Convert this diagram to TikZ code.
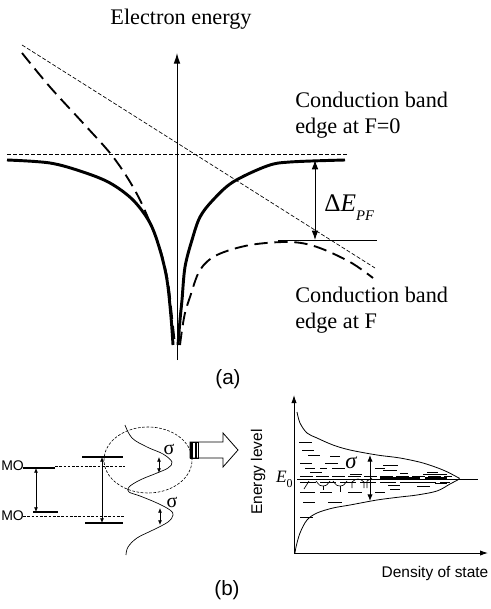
\documentclass[tikz,border=0pt]{standalone}
\usepackage{fontspec}
\setmainfont{Liberation Serif}
\setsansfont{Liberation Sans}
\usetikzlibrary{arrows.meta,shapes.geometric}
\begin{document}
\begin{tikzpicture}[x=0.75pt,y=-0.75pt,
  thickc/.style={line width=2.2pt, line join=round},
  fielddash/.style={line width=1.4pt, dash pattern=on 10pt off 5pt},
  thindash/.style={line width=0.5pt, dash pattern=on 3pt off 1.5pt},
  axisline/.style={line width=0.7pt},
  bigtip/.style={-{Latex[length=8pt,width=5pt]}},
  dbltip/.style={{Latex[length=7pt,width=5pt]}-{Latex[length=7pt,width=5pt]}},
  smalldbl/.style={line width=0.6pt,{Latex[length=3.5pt,width=3pt]}-{Latex[length=3.5pt,width=3pt]}},
  lvl/.style={line width=0.6pt},
  dashthin/.style={line width=0.45pt, dash pattern=on 2pt off 1.2pt},
  serifbig/.style={font=\fontsize{16.7}{19.5}\selectfont, inner sep=0pt},
  sanslab/.style={font=\sffamily\fontsize{15.5}{18}\selectfont, inner sep=0pt},
  sanssmall/.style={font=\sffamily\fontsize{11.6}{14}\selectfont, inner sep=0pt},
  molab/.style={font=\sffamily\fontsize{10.5}{12}\selectfont, inner sep=0pt},
  sigmalab/.style={font=\fontsize{15}{15}\selectfont, inner sep=0pt}]
\useasboundingbox (0,0) rectangle (490,609);

% ---------------- (a) ----------------
\node[serifbig, anchor=base] (title) at (181,25) {Electron energy};
\coordinate (axb) at (177,360);
\coordinate (axt) at (177,53);
\draw[axisline, bigtip] (axb) -- (axt);

% reference lines
\coordinate (h0l) at (7,154);
\coordinate (h0r) at (347,154);
\draw[thindash] (h0l) -- (h0r);
\coordinate (fl) at (22,45);
\coordinate (fr) at (375,268);
\draw[thindash] (fl) -- (fr);
\coordinate (hfl) at (278,240);
\coordinate (hfr) at (377,240);
\draw[line width=0.6pt] (hfl) -- (hfr);

% band edge at F=0
\draw[thickc] plot[smooth, tension=0.55] coordinates {(7,160) (50,163) (83,172) (110,183) (133,200) (150,223) (160,250) (167,280) (171,317) (173,345)};
\draw[thickc] plot[smooth, tension=0.55] coordinates {(178,345) (180,320) (182,300) (185,267) (192,240) (200,217) (213,200) (233,182) (267,166) (290,162) (345,160)};

% band edge at F
\draw[fielddash] plot[smooth, tension=0.55] coordinates {(22,53) (50,87) (83,123) (110,153) (127,177) (140,200) (151,225) (161,252) (168,282) (172,317) (175,345)};
\draw[fielddash] plot[smooth, tension=0.55] coordinates {(180,345) (182,330) (185,313) (190,297) (200,270) (217,255) (250,245) (290,242) (317,247) (350,262) (373,278)};

% Delta E arrow
\coordinate (dEt) at (315,160);
\coordinate (dEb) at (315,240);
\draw[line width=0.7pt, dbltip] (dEt) -- (dEb);
\node[anchor=west, inner sep=0pt] (dE) at (324,208) {\fontsize{19}{19}\selectfont Δ\textit{E}\raisebox{-0.35em}{\fontsize{11}{11}\selectfont\textit{PF}}};

\node[serifbig, anchor=north west, align=left] (cb0) at (295,92) {Conduction band\\edge at F=0};
\node[serifbig, anchor=north west, align=left] (cbf) at (295,287) {Conduction band\\edge at F};

\node[sanslab] (la) at (228,379) {(a)};

% ---------------- (b) left ----------------
\node[molab, anchor=west] (lumo) at (1,466) {MO};
\node[molab, anchor=west] (homo) at (1,516) {MO};
\coordinate (l1a) at (23,468); \coordinate (l1b) at (55,468);
\draw[line width=0.8pt] (l1a) -- (l1b);
\coordinate (l1c) at (55,466); \coordinate (l1d) at (125,466);
\draw[dashthin] (l1c) -- (l1d);
\coordinate (l2a) at (33,512); \coordinate (l2b) at (58,512);
\draw[line width=0.8pt] (l2a) -- (l2b);
\coordinate (l2c) at (23,516); \coordinate (l2d) at (125,516);
\draw[dashthin] (l2c) -- (l2d);
\coordinate (g1) at (36,468); \coordinate (g2) at (36,512);
\draw[smalldbl] (g1) -- (g2);

\coordinate (t1a) at (82,457); \coordinate (t1b) at (123,457);
\draw[line width=0.8pt] (t1a) -- (t1b);
\coordinate (t2a) at (85,523); \coordinate (t2b) at (123,523);
\draw[line width=0.8pt] (t2a) -- (t2b);
\coordinate (G1) at (102,457); \coordinate (G2) at (102,523);
\draw[smalldbl] (G1) -- (G2);

% gaussian bumps
\draw[line width=0.5pt] plot[smooth, tension=0.6] coordinates {(125,425) (132,438) (147,447) (163,454) (172,462) (168,468) (157,473) (140,480) (129,487) (129,492) (140,496) (157,503) (170,510) (173,515) (168,522) (153,530) (137,538) (128,547) (126,555)};
\coordinate (s1a) at (159,457); \coordinate (s1b) at (159,473);
\draw[smalldbl] (s1a) -- (s1b);
\node[sigmalab] (sig1) at (169,449) {σ};
\coordinate (s2a) at (160,508); \coordinate (s2b) at (160,525);
\draw[smalldbl] (s2a) -- (s2b);
\node[sigmalab] (sig2) at (172,502) {σ};

\node[draw, dashthin, ellipse, minimum width=66pt, minimum height=49.5pt, inner sep=0pt] (circ) at (148,460) {};

% hollow arrow
\draw[line width=0.6pt, fill=white] (190,442) -- (223,442) -- (223,433) -- (238,450) -- (223,467) -- (223,458) -- (190,458) -- cycle;
\draw[line width=0.6pt] (190,442) rectangle (198,458);
\draw[line width=1.3pt] (192,442) -- (192,458);
\draw[line width=1.3pt] (196,442) -- (196,458);

\node[sanslab] (lb) at (227,590) {(b)};

% ---------------- (b) right ----------------
\coordinate (o) at (294,553);
\coordinate (yt) at (294,395);
\coordinate (xt) at (488,553);
\draw[axisline, -{Latex[length=6pt,width=4pt]}] (o) -- (yt);
\draw[axisline, -{Latex[length=6pt,width=4pt]}] (o) -- (xt);
\node[sanssmall, rotate=90] (ylab) at (258,472) {Energy level};
\node[sanssmall] (xlab) at (435,573) {Density of state};

\draw[line width=0.6pt] plot[smooth, tension=0.55] coordinates {(297,412) (300,423) (307,433) (317,438) (333,445) (350,450) (377,455) (400,458) (423,463) (443,470) (457,477) (459,479) (450,484) (437,491) (417,495) (400,497) (377,500) (350,505) (333,508) (317,513) (307,520) (300,533) (296,547) (295,553)};

\coordinate (e0l) at (297,479); \coordinate (e0r) at (478,479);
\draw[line width=0.6pt] (e0l) -- (e0r);
\node[inner sep=0pt, anchor=east, font=\fontsize{13}{13}\selectfont] (e0) at (293,479) {\textit{E}\raisebox{-0.3em}{\fontsize{9}{9}\selectfont 0}};

% energy levels
\foreach \a/\b/\y in {299/312/442, 302/314/450, 308/320/455, 330/340/456, 300/312/463, 325/338/463, 305/315/468, 320/327/468, 332/345/468, 375/385/468, 383/398/465, 383/397/470, 400/408/473, 427/438/472, 423/447/474, 413/423/482, 435/447/483, 388/400/485, 417/430/486, 390/400/489, 300/315/492, 320/332/492, 348/362/492, 375/385/492, 303/315/502, 328/342/502, 300/313/517, 350/362/474, 310/322/472}
  \draw[lvl] (\a,\y) -- (\b,\y);
\draw[line width=0.45pt, dash pattern=on 10pt off 2pt] (300,476) -- (452,476);
\draw[line width=0.45pt, dash pattern=on 12pt off 3pt] (300,482) -- (450,482);
\draw[line width=1pt] (380,478) -- (420,478);
\draw[line width=1pt] (425,478) -- (447,478);
% hopping marks
\draw[line width=0.5pt] (304,489) -- (309,481);
\draw[line width=0.5pt] (316,481) .. controls (320,486) .. (323,486) .. controls (326,486) .. (330,481);
\draw[line width=0.5pt] (323,486) -- (323,490);
\draw[line width=0.5pt] (333,481) .. controls (337,486) .. (340,486) .. controls (343,486) .. (347,481);
\draw[line width=0.5pt] (340,486) -- (340,492);
\draw[line width=0.5pt] (352,488) -- (352,482) .. controls (356,478) and (360,478) .. (364,482) -- (364,488);
\draw[line width=0.5pt] (367,488) -- (367,481) -- (372,478);

\coordinate (sga) at (370,455); \coordinate (sgb) at (370,501);
\draw[line width=0.7pt, {Latex[length=5pt,width=4pt]}-{Latex[length=5pt,width=4pt]}] (sga) -- (sgb);
\node[inner sep=0pt, font=\fontsize{17}{17}\selectfont\itshape] (sig3) at (351,463) {σ};
\end{tikzpicture}
\end{document}
